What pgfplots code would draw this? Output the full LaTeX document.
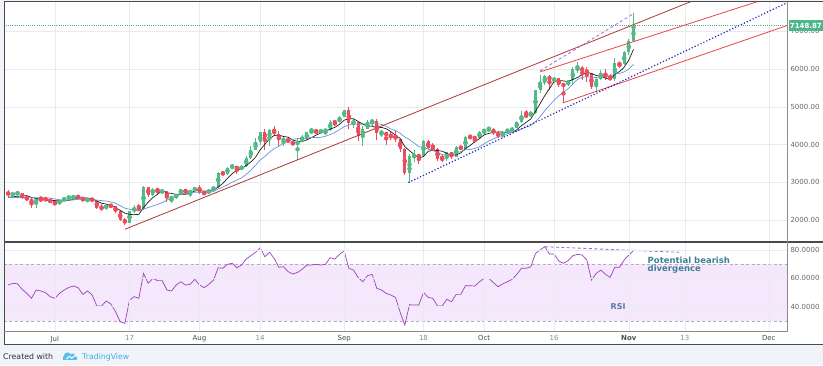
\documentclass[border=0pt]{standalone}
\usepackage{pgfplots}
\pgfplotsset{compat=1.18}
\usepackage{pgfplotstable}
\usepackage{fontspec}
\setmainfont{DejaVu Sans}
\definecolor{upc}{HTML}{53B987}
\definecolor{downc}{HTML}{EB4D5C}
\definecolor{gridc}{HTML}{E6EBF0}
\definecolor{framec}{HTML}{4A4A4A}
\definecolor{lightframe}{HTML}{8C8C8C}
\definecolor{footbg}{HTML}{F0F3F7}
\definecolor{labc}{HTML}{666666}
\definecolor{monc}{HTML}{4D4D4D}
\definecolor{dayc}{HTML}{8E8E8E}
\definecolor{ma1}{HTML}{1E1E1E}
\definecolor{ma2}{HTML}{6A92D8}
\definecolor{dkred}{HTML}{B03636}
\definecolor{brred}{HTML}{E84545}
\definecolor{purpd}{HTML}{A468DC}
\definecolor{bluedot}{HTML}{2A2AB8}
\definecolor{lastc}{HTML}{4FB68A}
\definecolor{lastl}{HTML}{3FAF8F}
\definecolor{rsic}{HTML}{9B42B8}
\definecolor{bandc}{HTML}{F5E7FC}
\definecolor{bandl}{HTML}{B9A8C2}
\definecolor{divc}{HTML}{3F8096}
\definecolor{rsitxt}{HTML}{5A78A6}
\definecolor{tvblue}{HTML}{3DB0E8}
\definecolor{footc}{HTML}{333333}

\pgfplotstableread{
d o h l c
-9 2670 2720 2600 2700
-8 2700 2740 2680 2710
-4 2430 2590 2320 2580
1 2430 2540 2400 2520
2 2520 2600 2500 2570
3 2570 2640 2560 2600
4 2600 2630 2560 2620
7 2510 2570 2480 2560
11 2310 2420 2270 2400
16 1930 2230 1920 2230
17 2230 2390 2180 2320
19 2280 2900 2270 2870
21 2670 2860 2640 2830
23 2760 2790 2710 2765
25 2580 2620 2450 2590
26 2590 2700 2560 2690
27 2690 2830 2680 2810
29 2730 2770 2620 2760
30 2760 2880 2740 2870
33 2710 2810 2700 2800
34 2800 2890 2770 2870
35 2870 3270 2860 3250
37 3220 3400 3200 3390
38 3390 3490 3360 3420
40 3340 3450 3320 3420
41 3420 3690 3400 3650
42 3650 3950 3610 3850
43 3850 4180 3850 4060
44 4060 4330 3990 4320
46 4160 4400 3950 4380
49 4110 4190 3950 4140
52 4000 4150 3600 4090
53 4090 4250 4070 4140
54 4140 4340 4110 4320
55 4320 4450 4310 4360
57 4350 4390 4310 4355
58 4355 4400 4250 4390
59 4390 4640 4350 4600
61 4590 4750 4570 4740
62 4740 4920 4730 4910
64 4580 4690 4450 4600
66 4230 4490 3970 4400
67 4400 4650 4400 4600
68 4600 4680 4500 4630
70 4310 4380 4200 4330
76 3240 3750 2970 3700
77 3700 3850 3530 3705
79 3690 4120 3690 4090
84 3610 3800 3570 3790
86 3670 3960 3670 3930
88 3890 4220 3880 4210
91 4170 4360 4160 4340
92 4340 4400 4280 4390
93 4390 4470 4370 4400
96 4220 4360 4170 4330
97 4330 4420 4320 4370
98 4370 4460 4310 4430
99 4430 4620 4430 4610
100 4610 4880 4560 4770
102 4760 4880 4750 4830
103 4830 5440 4820 5440
104 5440 5850 5380 5640
105 5640 5840 5580 5830
107 5690 5790 5640 5760
110 5570 5720 5560 5710
111 5710 6060 5610 6000
112 6000 6200 5900 6010
116 5520 5760 5400 5740
117 5740 5980 5720 5890
120 5740 6300 5680 6150
122 6130 6470 6100 6450
123 6450 6790 6380 6740
124 6740 7490 6740 7149
}\up

\pgfplotstableread{
d o h l c
-10 2735 2790 2610 2670
-7 2710 2720 2560 2590
-6 2590 2650 2500 2550
-5 2550 2570 2310 2430
-3 2580 2600 2480 2560
-2 2560 2600 2510 2530
-1 2530 2560 2460 2480
0 2480 2520 2370 2430
5 2620 2630 2580 2610
6 2610 2620 2480 2510
8 2560 2580 2500 2510
9 2510 2520 2300 2330
10 2330 2420 2240 2310
12 2400 2420 2330 2360
13 2360 2370 2180 2230
14 2230 2240 1980 1990
15 1990 2060 1880 1930
18 2320 2430 2260 2280
20 2870 2880 2620 2670
22 2830 2840 2690 2760
24 2765 2770 2470 2580
28 2810 2820 2690 2730
31 2870 2930 2690 2730
32 2730 2760 2660 2710
36 3250 3290 3180 3220
39 3420 3430 3230 3340
45 4320 4400 3850 4160
47 4380 4480 4250 4280
48 4280 4370 3970 4110
50 4140 4200 4030 4060
51 4060 4090 3990 4000
56 4360 4380 4290 4350
60 4600 4640 4480 4590
63 4910 4990 4420 4580
65 4600 4600 4100 4230
69 4630 4680 4130 4310
71 4330 4330 4000 4230
72 4230 4330 4130 4210
73 4210 4350 4070 4160
74 4160 4160 3800 3880
75 3880 3920 3200 3240
78 3705 3750 3480 3690
80 4090 4110 3850 3910
81 3910 4040 3860 3880
82 3880 3900 3570 3630
83 3630 3760 3540 3610
85 3790 3800 3630 3670
87 3930 3980 3860 3890
89 4210 4270 4140 4180
90 4180 4200 4030 4170
94 4400 4430 4260 4310
95 4310 4350 4180 4220
101 4770 4920 4740 4760
106 5830 5850 5450 5690
108 5760 5770 5530 5590
109 5590 5600 5110 5570
113 6010 6080 5720 5980
114 5980 6050 5650 5900
115 5900 5900 5470 5520
118 5890 6000 5710 5770
119 5770 5860 5700 5740
121 6150 6200 6020 6130
}\down

\pgfplotsset{
  tvaxis/.style={
    scale only axis, width=783pt,
    xmin=-10.9, xmax=156.9,
    axis line style={draw=none},
    tick style={draw=none},
    grid=major, grid style={color=gridc, line width=0.6pt},
    xtick={0,16,31,44,62,79,92,107,123,135,153},
    yticklabel pos=right,
    ticklabel style={font=\fontsize{7}{8}\selectfont, text=labc},
    yticklabel style={anchor=west, xshift=0pt},
  },
  wick/.style={only marks, mark=none, #1,
    error bars/.cd, y dir=both, y explicit, error mark=none,
    error bar style={line width=0.9pt, #1}},
  body/.style={only marks, mark=none, #1,
    error bars/.cd, y dir=both, y explicit, error mark=none,
    error bar style={line width=3pt, #1}},
}

\begin{document}
\begin{tikzpicture}[x=1pt,y=1pt]
\useasboundingbox (0,0) rectangle (823,365);
\fill[footbg] (0,0) rectangle (823,365);
\fill[white] (4,20.7) rectangle (823,363.3);

% ---------- price panel ----------
\begin{axis}[tvaxis, at={(4pt,123pt)}, anchor=south west, height=240.3pt,
  ymin=1416, ymax=7788,
  xticklabels={},
  ytick={2000,3000,4000,5000,6000,7000},
  yticklabels={2000.00,3000.00,4000.00,5000.00,6000.00,7000.00},
]
\addplot[wick=upc] table[x=d, y expr={(\thisrow{h}+\thisrow{l})/2}, y error expr={(\thisrow{h}-\thisrow{l})/2}] {\up};
\addplot[wick=downc] table[x=d, y expr={(\thisrow{h}+\thisrow{l})/2}, y error expr={(\thisrow{h}-\thisrow{l})/2}] {\down};
\addplot[body=upc] table[x=d, y expr={(\thisrow{o}+\thisrow{c})/2}, y error expr={max(abs(\thisrow{c}-\thisrow{o})/2,10)}] {\up};
\addplot[body=downc] table[x=d, y expr={(\thisrow{o}+\thisrow{c})/2}, y error expr={max(abs(\thisrow{c}-\thisrow{o})/2,10)}] {\down};

% last price line
\addplot[lastl, line width=0.7pt, dash pattern=on 0.8pt off 1.4pt] coordinates {(-11,7148.87) (158,7148.87)};

% 5-day average (black)
\addplot[ma1, line width=0.7pt] coordinates {
(-10,2600) (-9,2615) (-8,2630) (-7,2635) (-6,2644) (-5,2596) (-4,2572) (-3,2542) (-2,2530) (-1,2516)
(0,2516) (1,2504) (2,2506) (3,2520) (4,2548) (5,2584) (6,2582) (7,2580) (8,2562) (9,2504)
(10,2444) (11,2422) (12,2382) (13,2326) (14,2258) (15,2182) (16,2148) (17,2140) (18,2150) (19,2326)
(20,2474) (21,2594) (22,2682) (23,2778) (24,2720) (25,2704) (26,2676) (27,2686) (28,2680) (29,2716)
(30,2772) (31,2780) (32,2760) (33,2774) (34,2796) (35,2872) (36,2970) (37,3106) (38,3230) (39,3324)
(40,3358) (41,3444) (42,3536) (43,3664) (44,3860) (45,4008) (46,4154) (47,4240) (48,4250) (49,4214)
(50,4194) (51,4118) (52,4080) (53,4086) (54,4122) (55,4182) (56,4252) (57,4304) (58,4354) (59,4410)
(60,4456) (61,4534) (62,4646) (63,4684) (64,4684) (65,4612) (66,4544) (67,4482) (68,4492) (69,4434)
(70,4454) (71,4420) (72,4342) (73,4248) (74,4162) (75,3944) (76,3838) (77,3736) (78,3642) (79,3684)
(80,3818) (81,3854) (82,3840) (83,3824) (84,3764) (85,3716) (86,3726) (87,3778) (88,3898) (89,3976)
(90,4076) (91,4158) (92,4258) (93,4296) (94,4322) (95,4332) (96,4330) (97,4326) (98,4332) (99,4392)
(100,4502) (101,4588) (102,4680) (103,4882) (104,5088) (105,5300) (106,5486) (107,5672) (108,5702) (109,5688)
(110,5664) (111,5726) (112,5776) (113,5854) (114,5920) (115,5882) (116,5830) (117,5806) (118,5764) (119,5732)
(120,5858) (121,5936) (122,6048) (123,6242) (124,6524)};

% 10-day average (blue)
\addplot[ma2, line width=0.7pt] coordinates {
(-10,2600) (-7,2595) (-4,2590) (-1,2580)
(0,2556) (1,2538) (2,2524) (3,2525) (4,2532) (5,2550) (6,2543) (7,2543) (8,2541) (9,2526)
(10,2514) (11,2502) (12,2481) (13,2444) (14,2381) (15,2313) (16,2285) (17,2261) (18,2238) (19,2292)
(20,2328) (21,2371) (22,2411) (23,2464) (24,2523) (25,2589) (26,2635) (27,2684) (28,2729) (29,2718)
(30,2738) (31,2728) (32,2723) (33,2727) (34,2756) (35,2822) (36,2875) (37,2933) (38,3002) (39,3060)
(40,3115) (41,3207) (42,3321) (43,3447) (44,3592) (45,3683) (46,3799) (47,3888) (48,3957) (49,4037)
(50,4101) (51,4136) (52,4160) (53,4168) (54,4168) (55,4188) (56,4185) (57,4192) (58,4220) (59,4266)
(60,4319) (61,4393) (62,4475) (63,4519) (64,4547) (65,4534) (66,4539) (67,4564) (68,4588) (69,4559)
(70,4533) (71,4482) (72,4412) (73,4370) (74,4298) (75,4199) (76,4129) (77,4039) (78,3945) (79,3923)
(80,3881) (81,3846) (82,3788) (83,3733) (84,3724) (85,3767) (86,3790) (87,3809) (88,3861) (89,3870)
(90,3896) (91,3942) (92,4018) (93,4097) (94,4149) (95,4204) (96,4244) (97,4292) (98,4314) (99,4357)
(100,4417) (101,4459) (102,4503) (103,4607) (104,4740) (105,4901) (106,5037) (107,5176) (108,5292) (109,5388)
(110,5482) (111,5606) (112,5724) (113,5778) (114,5804) (115,5773) (116,5778) (117,5791) (118,5809) (119,5826)
(120,5870) (121,5883) (122,5927) (123,6003) (124,6128)};

% trend lines
\addplot[dkred, line width=0.8pt] coordinates {(15,1753) (160,8971)};
\addplot[brred, line width=0.8pt] coordinates {(104,5928) (160,8168)};
\addplot[brred, line width=0.8pt] coordinates {(108.9,5106) (160,7288)};
\addplot[bluedot, line width=1.7pt, dash pattern=on 0pt off 3.2pt, line cap=round] coordinates {(75.9,3000) (160,7941)};
\addplot[purpd, line width=0.8pt, dash pattern=on 3pt off 2.5pt] coordinates {(104,5955) (124,7469)};

\coordinate (lastp) at (axis cs:156.9,7148.87);
\end{axis}

% ---------- RSI panel ----------
\begin{axis}[tvaxis, at={(4pt,33.3pt)}, anchor=south west, height=89.7pt,
  ymin=22.36, ymax=85.65, axis on top,
  ytick={40,60,80},
  yticklabels={40.0000,60.0000,80.0000},
  xticklabels={\textcolor{monc}{Jul},\textcolor{dayc}{17},\textcolor{monc}{Aug},\textcolor{dayc}{14},\textcolor{monc}{Sep},\textcolor{dayc}{18},\textcolor{monc}{Oct},\textcolor{dayc}{16},\textcolor{monc}{\bfseries Nov},\textcolor{dayc}{13},\textcolor{monc}{Dec}},
  xticklabel style={yshift=-0.5pt},
]
\addplot[fill=bandc, draw=none] coordinates {(-11,30) (158,30) (158,70) (-11,70)} -- cycle;
\addplot[bandl, line width=0.6pt, dash pattern=on 3pt off 2.5pt] coordinates {(-11,70) (158,70)};
\addplot[bandl, line width=0.6pt, dash pattern=on 3pt off 2.5pt] coordinates {(-11,30) (158,30)};
\addplot[rsic, line width=0.7pt] coordinates {
(-10,55.3) (-9,56.5) (-8,56.2) (-7,52.2) (-6,49.4) (-5,45.9) (-4,51.8) (-3,51.1) (-2,49.9) (-1,47.1)
(0,45.9) (1,49.4) (2,51.8) (3,53.6) (4,54.6) (5,53.4) (6,48.7) (7,51.1) (8,48.2) (9,40.5)
(10,40.5) (11,44) (12,41.9) (13,36.5) (14,29.4) (15,28.2) (16,44.7) (17,47.1) (18,45.9) (19,63.5)
(20,56.5) (21,60) (22,58.4) (23,58.4) (24,51.8) (25,51.1) (26,55.3) (27,57.6) (28,55.3) (29,55.8)
(30,59.3) (31,55.3) (32,53.4) (33,55.8) (34,58.8) (35,67.5) (36,67.1) (37,69.9) (38,70.6) (39,67.5)
(40,69.4) (41,73.6) (42,76) (43,78.4) (44,81.6) (45,75.3) (46,78.4) (47,74.1) (48,67.8) (49,68.2)
(50,64.7) (51,63.1) (52,64.2) (53,66.4) (54,69.4) (55,69.4) (56,69.9) (57,69.4) (58,69.9) (59,74.6)
(60,73.6) (61,77) (62,79.3) (63,67.1) (64,65.9) (65,60.5) (66,57.6) (67,61.9) (68,62.8) (69,52.9)
(70,51.8) (71,49.4) (72,48.2) (73,46.6) (74,36) (75,27.1) (76,41.4) (77,41.2) (78,41.2) (79,50.1)
(80,46.6) (81,45.9) (82,40.5) (83,40.5) (84,45.2) (85,43.5) (86,48.7) (87,48.7) (88,54.8) (89,54.8)
(90,54.6) (91,57.6) (92,60) (93,60) (94,56.9) (95,54.1) (96,56.2) (97,57.6) (98,59.3) (99,62.8)
(100,67.1) (101,67.1) (102,68.2) (103,77.6) (104,80) (105,82.4) (106,77.2) (107,77.2) (108,72.2) (109,70.6)
(110,72.5) (111,76) (112,76.9) (113,76.5) (114,72.9) (115,58.8) (116,63.5) (117,65.9) (118,62.8) (119,60.7)
(120,67.8) (121,67.8) (122,72.9) (123,76.5) (124,79.5)};
\addplot[purpd, line width=0.9pt, dash pattern=on 3pt off 2.5pt] coordinates {(105,82.3) (133.8,78.4)};
\coordinate (divp) at (axis cs:127,69.4);
\coordinate (rsip) at (axis cs:120.7,40);
\end{axis}

% frames
\draw[framec, line width=0.9pt] (4,20.7) -- (4,363.3) -- (823,363.3);
\draw[framec, line width=0.9pt] (4,20.7) -- (823,20.7);
\draw[framec, line width=1.1pt] (4,123) -- (823,123);
\draw[lightframe, line width=0.5pt] (4,33.3) -- (787,33.3);
\draw[lightframe, line width=0.5pt] (787,33.3) -- (787,363.3);

% last price box
\node[fill=lastc, text=white, font=\fontsize{7}{8}\selectfont\bfseries, inner xsep=1.2pt, inner ysep=3pt, anchor=west] at ([xshift=1.5pt]lastp) {7148.87};

% annotations
\node[anchor=west, align=left, text=divc, font=\fontsize{8.5}{8.2}\selectfont\bfseries, inner sep=0pt] at (divp) {Potential bearish\\divergence};
\node[text=rsitxt, font=\fontsize{8}{9}\selectfont\bfseries, inner sep=0pt] at (rsip) {RSI};

% footer
\node[anchor=west, text=footc, font=\fontsize{7.8}{9}\selectfont, inner sep=0pt] at (3,8) {Created with};
\fill[tvblue!85!white] (63,5) rectangle (77,8.5);
\fill[tvblue!85!white] (67.5,9) circle (3.6pt);
\fill[tvblue!85!white] (72.5,8.5) circle (3pt);
\fill[tvblue!85!white] (65,7) circle (2.2pt);
\fill[white] (66,6.2) -- (69.5,9.4) -- (71.8,7.4) -- (74.8,10.2) -- (75.4,9.4) -- (71.8,6.2) -- (69.5,8.2) -- (66.6,5.4) -- cycle;
\node[anchor=west, text=tvblue, font=\fontsize{7.8}{9}\selectfont, inner sep=0pt] at (82,8) {TradingView};
\end{tikzpicture}
\end{document}
